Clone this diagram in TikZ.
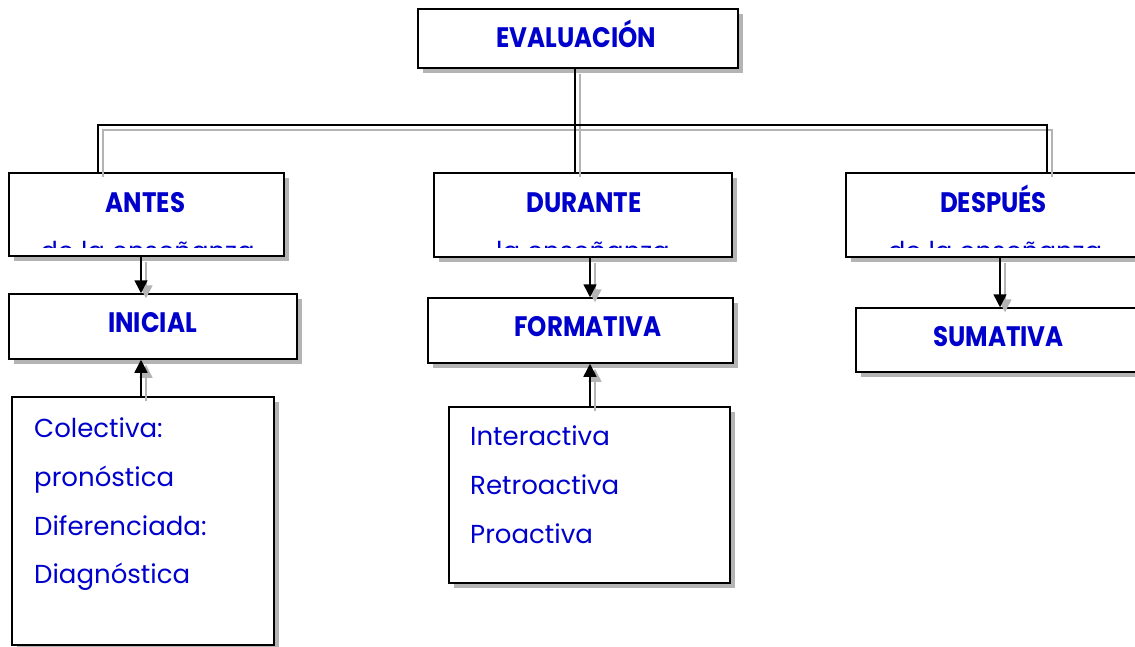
\documentclass[tikz,border=0pt]{standalone}
\usepackage{fontspec}
\setmainfont{Poppins}
\usetikzlibrary{shadows,arrows.meta}
\definecolor{tblue}{RGB}{0,0,204}
\definecolor{shgray}{RGB}{180,180,180}
\newcommand{\tallttl}[1]{\scalebox{1}[1.15]{#1}}
\begin{document}
\begin{tikzpicture}[x=1pt,y=-1pt,
  box/.style={draw=black, line width=1.5pt, fill=white, rectangle, inner sep=0pt,
    drop shadow={shadow xshift=5pt, shadow yshift=-5pt, fill=shgray, opacity=1}},
  ttl/.style={font=\bfseries\fontsize{24.5}{24.5}\selectfont, text=tblue, anchor=base, inner sep=0pt},
  sub/.style={font=\fontsize{26}{26}\selectfont, text=tblue, anchor=base, inner sep=0pt},
  body/.style={font=\fontsize{26}{26}\selectfont, text=tblue, anchor=base west, inner sep=0pt},
  con/.style={line width=1.5pt, draw=black},
  conshadow/.style={line width=1.5pt, draw=shgray, transform canvas={shift={(5pt,-5pt)}}},
  arr/.style={con, -{Triangle[length=13pt,width=13pt]}},
  arrshadow/.style={conshadow, -{Triangle[length=13pt,width=13pt]}},
]
\useasboundingbox[fill=white] (0,0) rectangle (1135,646);
% boxes
\node[box, minimum width=320pt, minimum height=59pt] (eval) at (578,38.5) {};
\node[box, minimum width=275pt, minimum height=83pt] (antes) at (146.5,214.5) {};
\node[box, minimum width=298pt, minimum height=84pt] (durante) at (583,215) {};
\node[box, minimum width=298pt, minimum height=84pt] (despues) at (995,215) {};
\node[box, minimum width=288pt, minimum height=65pt] (inicial) at (153,326.5) {};
\node[box, minimum width=305pt, minimum height=65pt] (formativa) at (580.5,330.5) {};
\node[box, minimum width=288pt, minimum height=64pt] (sumativa) at (1000,340) {};
\node[box, minimum width=262pt, minimum height=248pt] (colectiva) at (143,521) {};
\node[box, minimum width=281pt, minimum height=176pt] (interactiva) at (589.5,495) {};
% junction coordinates
\coordinate (j) at (575,125);
\coordinate (hl) at (98,125);
\coordinate (hr) at (1047,125);
\coordinate (xa) at (141,0);
\coordinate (xd) at (590,0);
\coordinate (xs) at (1000,0);
% connector shadows
\draw[conshadow] (eval.south -| j) -- (j);
\draw[conshadow] (antes.north -| hl) -- (hl) -- (hr) -- (despues.north -| hr);
\draw[conshadow] (j) -- (durante.north -| j);
\draw[arrshadow] (antes.south -| xa) -- (inicial.north -| xa);
\draw[arrshadow] (colectiva.north -| xa) -- (inicial.south -| xa);
\draw[arrshadow] (durante.south -| xd) -- (formativa.north -| xd);
\draw[arrshadow] (interactiva.north -| xd) -- (formativa.south -| xd);
\draw[arrshadow] (despues.south -| xs) -- (sumativa.north -| xs);
% connectors
\draw[con] (eval.south -| j) -- (j);
\draw[con] (antes.north -| hl) -- (hl) -- (hr) -- (despues.north -| hr);
\draw[con] (j) -- (durante.north -| j);
\draw[arr] (antes.south -| xa) -- (inicial.north -| xa);
\draw[arr] (colectiva.north -| xa) -- (inicial.south -| xa);
\draw[arr] (durante.south -| xd) -- (formativa.north -| xd);
\draw[arr] (interactiva.north -| xd) -- (formativa.south -| xd);
\draw[arr] (despues.south -| xs) -- (sumativa.north -| xs);
% titles
\node[ttl] (tEval) at (576.5,47) {\tallttl{EVALUACIÓN}};
\node[ttl] (tAntes) at (145.5,212) {\tallttl{ANTES}};
\node[ttl] (tDurante) at (584,212) {\tallttl{DURANTE}};
\node[ttl] (tDespues) at (993.5,212) {\tallttl{DESPUÉS}};
\node[ttl] (tInicial) at (152.5,332) {\tallttl{INICIAL}};
\node[ttl] (tFormativa) at (588,336) {\tallttl{FORMATIVA}};
\node[ttl] (tSumativa) at (998.5,346) {\tallttl{SUMATIVA}};
% clipped subtitles
\begin{scope}
\clip (10,174) rectangle (283,247.5);
\node[sub] (sAntes) at (147.5,260) {de la enseñanza};
\end{scope}
\begin{scope}
\clip (435,174) rectangle (731,247.5);
\node[sub] (sDurante) at (583,260) {la enseñanza};
\end{scope}
\begin{scope}
\clip (847,174) rectangle (1135,247.5);
\node[sub] (sDespues) at (995,260) {de la enseñanza};
\end{scope}
% body texts
\node[body] (b1) at (34,437) {Colectiva:};
\node[body] (b2) at (34,486) {pronóstica};
\node[body] (b3) at (34,535) {Diferenciada:};
\node[body] (b4) at (34,583) {Diagnóstica};
\node[body] (c1) at (470,445) {Interactiva};
\node[body] (c2) at (470,494) {Retroactiva};
\node[body] (c3) at (470,543) {Proactiva};
\end{tikzpicture}
\end{document}
